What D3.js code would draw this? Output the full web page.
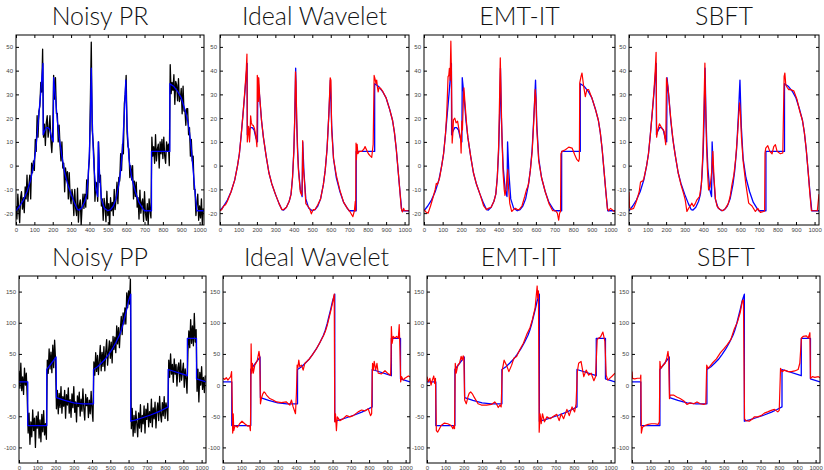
<!DOCTYPE html>
<html>
<head>
<style>
body { margin: 0; background: #fff; }
.title { font-family: Lato, "DejaVu Sans", sans-serif; font-weight: 300; font-size: 25px; fill: #111; }
.tick text { font-family: "Liberation Sans", Arial, sans-serif; font-size: 6px; fill: #444; }
.tick line { stroke: #000; }
path.sig { fill: none; stroke-linejoin: round; }
</style>
<script src="https://d3js.org/d3.v7.min.js"></script>
</head>
<body>
<script>
// axis ticks
var xTicks = [0, 100, 200, 300, 400, 500, 600, 700, 800, 900, 1000];
var prTicks = [-20, -10, 0, 10, 20, 30, 40, 50];
var ppTicks = [-100, -50, 0, 50, 100, 150];
var topTitles = ["Noisy PR", "Ideal Wavelet", "EMT-IT", "SBFT"];
var bottomTitles = ["Noisy PP", "Ideal Wavelet", "EMT-IT", "SBFT"];

// noisy signals, one sample every 5 points
var noisyStep = 5;
var prNoisy = [-17,-22.5,-12,-18.8,-24,-13.5,-11,-18.3,-13.5,-19.8,
  -9,-14,-4,-15,-8.5,-4,-14,1,-3,2,
  -2,11,6,21,12,23,25,35,31,49,
  12,17.5,8.5,18,21,12,15.5,21,10.5,5.5,
  14,38,28,37,22,22,10,17,8,2,
  10,-1,1,-11,-1,-6,-2.5,-14,-3,-13,
  -16,-10,-13,-21,-10,-18,-21,-9.5,-23.8,-16.7,
  -14.4,-25,-17.5,-12,-18,-12,-17.5,-6,-14,-2,
  3,27,52,15,10,3,-15,-7,-7.5,-15,
  10,-7,-4,-17,-14,-23,-13.8,-17.3,-23.6,-10.8,
  -21,-16,-25.8,-13.5,-19,-15.5,-21,-10,-18.5,-14,
  -7,-16,-5,-6.5,5,-2,9,5,26,30,
  38,14,8,7,-5,0,-6,0,-14,-6.5,
  -13,-7,-17.5,-13.5,-22.5,-10.3,-20,-15.5,-14,-23.5,
  -11,-20,-23,-16,-25,-14,-19,-22,12,4,
  8,1,13,2,7,9,-1,10,5,11,
  3,12,4,1,10,6,9,0,42.5,30.3,
  35,31.7,38.3,25.8,35.5,34,27.3,36.6,27,28.2,
  32.5,21.8,33.5,23,23.5,17,24,24,13,16,
  4,11,2,4,-10,-10,-21,-16,-12,-23,
  -17,-22,-14,-25,-18];

var ppNoisy = [23,-5,35,-9,13,-15,27,0,19,-20,
  -77,-45,-95,-59,-83,-40,-73,-53,-100,-50,
  -69,-43,-85,-56,-91,-47,-75,-41,-80,-62,
  -87,40,19,58,26,53,20,64,28,72,
  41,-38,-8.5,-46,-13.5,-36,-2.5,-45,-18.5,-34,
  -8.5,-53,-15.5,-32,-4.5,-45,-23.3,-51.6,-14,-36.2,
  -2.5,-43.7,-27,-59.1,-17.3,-34.4,-11.5,-49.6,-22.7,-41.8,
  -6,-38,-56,-15,-33,-20,-52,-24,-46,-10,
  -40,-58,37,16,52,22,47.5,17,40,63.5,
  23,52.5,30,61.5,23,53,73,32,54,71,
  43,69,35.5,78,57,77,52,95,66,92,
  60,90,110,81,116,98,124,98,148,124,
  151,130,170,-70,-37.5,-82,-48.8,-76.4,-42,-61.5,
  -83,-44.5,-69,-31.5,-75,-48.5,-62,-33.5,-77,-38.5,
  -55,-29.5,-67,-42.5,-60,-22.5,-67,-36.5,-54,-27.4,
  -68.8,-40.2,-28.5,-56.9,-18.3,-47.6,-59,-28,-49.2,-18.4,
  -53.5,-28.5,-39.5,-57,40,12.5,50,17.5,33,4.5,
  42,17.5,33,-1.5,28,35.5,5,40.5,8,21.5,
  35,-3.5,26,9.5,-13,53,87,60,105,67,
  95,63,115,69,89,-10,25.5,-27,20.5,0,
  29.5,-7,12.5,-12,15.5];

// true signals [x, y]
var prTrue = [[0,-19],[20,-17],[40,-14.5],[60,-11],[80,-6],[95,0],[105,5],[115,13],[125,22],[135,31],[142,38],[147,43],
  [148,13],[155,14.5],[165,16],[175,16],[185,15],[195,11.5],[203,10],[205,37],[215,29],[225,19],[235,12],[250,4],
  [265,-3],[280,-7.5],[300,-12],[320,-16],[335,-18.5],[345,-18.7],[360,-17.5],[375,-15],[385,-12],[393,-5],[400,6],
  [405,20],[410,41],[415,20],[420,8],[425,-1],[435,-10],[445,-13],[448,10],[455,-3],[465,-14],[480,-17.8],[500,-19],
  [515,-18.5],[530,-17],[545,-14],[560,-8],[570,-2],[580,7],[590,22],[598,36],[605,17],[615,3],[630,-5],[650,-11],
  [670,-15.5],[690,-18],[700,-19],[738,-19],[738,6],[838,6],[838,34.5],[860,33.3],[880,31.3],[900,28.5],[920,23.5],
  [935,19],[945,14],[955,7],[965,-2],[975,-11],[985,-19],[1024,-19]];

var ppTrue = [[0,5],[48,5],[48,-65],[152,-65],[152,25],[203,45],[205,-20],[250,-24.5],[300,-28.5],[350,-30],[408,-30],
  [408,25],[430,29.5],[450,35],[470,41],[490,49],[510,57.5],[530,68],[550,80],[560,88],[570,98],[580,110],[590,122],
  [600,135],[612,146],[612,-58],[640,-56],[680,-52],[720,-48],[760,-43.5],[790,-39.2],[817,-35],[817,25],[922,15],
  [922,75],[972,75],[972,10],[1024,5]];

// estimates [x, y]
var prIdeal = [[0,-19],[10,-18.5],[20,-17],[30,-16.5],[40,-15],[60,-11],[80,-6],[95,0],[105,5],[115,13],[125,22],[135,32],
  [142,40],[146,47],[148,10],[152,14],[155,16.5],[160,10],[163,14],[166,21],[170,18],[175,17],[180,17],[187,15.5],[195,12],
  [200,8],[202,38],[206,36],[208,27],[210,37],[215,29],[225,19],[235,12],[250,4],[265,-3],[280,-7.5],[300,-12],[320,-16],
  [335,-18.5],[345,-18.5],[360,-17.5],[375,-15],[385,-12],[393,-5],[400,6],[405,20],[409,39.5],[412,35],[416,18],[420,6],
  [425,-2],[435,-11],[443,-12.5],[446,-5],[448,10.5],[451,0],[457,-6],[465,-16],[475,-17],[485,-18],[495,-20.3],[505,-18.5],
  [515,-18.5],[530,-16.5],[545,-14],[560,-8],[570,-2],[580,7],[590,22],[597,37],[601,36],[605,15],[615,3],[630,-4],
  [650,-10.5],[670,-15.5],[690,-18],[705,-19.5],[720,-21.5],[728,-19],[733,-15],[735,-19],[737,9.5],[739,2.5],[743,9],
  [747,5],[755,6],[768,6],[780,7],[786,8],[795,6.5],[804,5],[815,4],[822,3.5],[830,9],[835,38],[840,36.5],[845,34.5],
  [849,36],[853,33],[857,31],[862,33],[870,32.5],[880,31.5],[900,28.5],[920,23.5],[935,19],[945,14],[955,7],[965,-2],
  [975,-11],[982,-18],[988,-19.5],[995,-18],[1000,-19],[1024,-19]];

var prEmt = [[0,-18.5],[10,-19.5],[22,-20],[35,-17],[50,-13],[60,-10],[66,-7.5],[72,-8],[84,-5],[95,0],[105,5],[115,13],
  [122,22],[129,37.5],[133,38],[136,41],[140,36],[144,52.4],[147,40],[151,9.5],[155,14],[158,19.3],[165,20],[172,18],
  [180,18.7],[188,15],[196,11.6],[199,5.3],[203,18.7],[206,15],[210,25],[214,32.7],[220,26],[228,18],[235,12],[250,4],
  [265,-3],[280,-7.5],[300,-12],[320,-17],[335,-18.5],[345,-18],[360,-17.5],[375,-15],[385,-12],[393,-5],[400,8],[405,28],
  [409,45.4],[413,30],[418,12],[424,-3],[430,-10],[434,-12.5],[440,-10],[445,-5],[449,-1.7],[453,-9],[460,-16],[470,-19.3],
  [480,-18.5],[490,-18],[500,-18.5],[510,-18.5],[525,-17],[540,-13],[550,-10],[556,-9],[562,-7],[570,-2],[580,6],[588,18],
  [596,32],[600,28],[605,15],[615,2],[630,-5],[650,-11],[670,-16],[690,-19],[705,-19],[715,-20],[722,-23],[727,-20],
  [732,-19.3],[734,5],[740,6],[758,6.7],[776,7.8],[794,7.4],[808,4.6],[820,2.5],[829,1.8],[833,3],[835,34.8],[842,37.6],
  [847,39],[856,33.4],[865,29],[873,32],[883,32],[900,28.5],[920,23.5],[935,19],[945,14],[955,7],[965,-2],[975,-11],
  [983,-18],[990,-19],[1000,-18],[1024,-19.5]];

var prSbft = [[0,-11],[3,-17.5],[10,-18.5],[25,-18],[40,-15],[55,-11],[62,-7],[68,-6.6],[74,-6.5],[80,-5.5],[95,0],[105,5],
  [115,13],[125,22],[135,32],[142,41],[146,47.7],[149,12],[155,15],[164,17.6],[177,15.8],[189,14.4],[198,8.8],[202,37],
  [210,33],[220,24],[230,16],[240,9],[250,4],[265,-3],[280,-8],[295,-12],[303,-14.4],[312,-19.3],[321,-18],[330,-17],
  [339,-15.8],[348,-17.2],[357,-16],[366,-14.4],[380,-13],[390,-8],[398,5],[404,25],[409,43.2],[413,25],[418,8],[424,-4],
  [429,-10.2],[437,-9],[445,-3],[452,6],[458,-5],[466,-14],[474,-17],[490,-18.5],[505,-19],[520,-18],[535,-16],[545,-13],
  [555,-8],[565,-4],[575,3],[585,13],[592,22],[596,26.4],[600,23],[606,12],[615,2],[630,-8],[645,-15.8],[663,-17],
  [681,-19.3],[694,-18],[708,-19.7],[726,-19.3],[731,-19],[733,5.3],[737,7.4],[748,8.4],[759,6],[771,5],[780,8],[789,8.8],
  [798,6],[816,5],[829,5.3],[836,37.6],[840,39],[845,34],[852,33],[861,32],[870,32],[888,31.5],[905,28],[920,23],[935,19],
  [945,14],[955,7],[965,-2],[975,-12],[983,-19],[1000,-19],[1015,-19],[1024,-12]];

var ppIdeal = [[0,11],[10,9],[18,12],[27,8],[35,11],[42,13.5],[47,21.6],[50,-20],[53,-77],[56,-46],[59,-73],[63,-68],
  [68,-65],[79,-67.5],[91,-62],[104,-58],[119,-62],[137,-66],[146,-65],[150,-73],[152,-30],[154,66],[157,19],[161,35],
  [166,19],[174,32],[182,36],[188,40],[197,54],[201,46],[203,10],[205,-30],[210,-21.6],[218,-14],[225,-11],[232,-13],
  [238,-16],[256,-21.6],[274,-24],[293,-27],[320,-28],[347,-27],[357,-30],[366,-32],[375,-24],[384,-35],[390,-40],
  [397,-46],[402,-13],[406,32],[410,28],[415,40],[420,30],[430,32],[439,24],[448,35],[460,38],[470,41],[490,49],
  [510,57.5],[530,68],[550,79],[560,86],[570,95],[580,107],[590,119],[600,132],[609,146],[612,-59],[616,-46],[621,-73],
  [626,-51],[640,-57],[658,-54],[676,-49],[695,-51],[713,-49],[740,-43],[759,-40],[777,-41.5],[795,-38],[808,-49],
  [814,-46],[817,10],[819,35],[823,24],[828,38],[836,24],[843,35],[850,19],[868,18],[887,23],[905,18],[918,16],[920,40],
  [922,94],[926,67],[932,78],[941,75.5],[951,78],[960,75],[965,97],[969,56],[973,5],[978,13.5],[987,8],[996,11],
  [1015,14.6],[1024,13]];

var ppEmt = [[0,13.5],[7,5.4],[16,10.8],[22,0],[29,8],[37,14.6],[42,2.7],[46,10.8],[51,-73],[58,-75.5],[68,-70],[77,-64.8],
  [95,-61],[113,-62],[132,-64.8],[141,-70],[146,-65],[150,-70],[154,35],[159,19],[168,32],[177,35],[186,46],[192,40],
  [197,47],[201,43],[205,-24],[214,-30],[223,-19],[230,-13],[238,-11],[247,-14],[256,-19],[278,-30],[296,-32],[324,-32],
  [351,-31],[369,-27],[378,-30],[388,-36],[397,-32],[404,-35],[410,24],[420,40],[433,32],[446,21.6],[461,32],[473,43],
  [488,46],[506,57],[525,67],[543,81],[561,92],[574,105],[589,124],[600,159],[603,140],[607,151],[611,-75.5],[616,-46],
  [622,-62],[629,-46],[640,-59],[653,-51],[671,-54],[689,-50],[707,-47],[720,-57],[731,-46],[744,-54],[762,-39],[775,-49],
  [790,-35],[804,-43],[812,-30],[819,21.6],[826,35],[839,38],[854,13.5],[867,24],[881,16],[894,19],[909,7],[918,13.5],
  [927,73],[936,75.5],[945,77],[958,85],[969,70],[976,16],[985,8],[995,10.8],[1009,14.6],[1024,19]];

var ppSbft = [[0,21.6],[3,10.8],[15,10],[30,11],[46,11],[48,16],[51,-77],[57,-67.5],[70,-65],[88,-63],[106,-62],[125,-62],
  [143,-63],[149,-59],[152,38],[156,27],[167,31],[180,35],[189,43],[196,54],[200,43],[204,-21.6],[207,-16],[226,-16],
  [244,-19],[262,-21.6],[281,-25],[299,-31],[317,-28.6],[336,-30],[354,-27],[372,-30],[391,-31],[402,-30],[407,32],
  [413,27],[424,30],[437,35],[460,42],[482,52],[500,58],[519,65],[538,73],[556,89],[574,101],[589,116],[601,135],
  [607,136.5],[613,-54],[620,-57],[639,-58],[657,-54],[666,-51],[684,-51],[703,-49],[721,-45],[739,-43],[758,-40.5],
  [776,-39],[794,-43],[802,-40.5],[809,27],[817,21.6],[831,24],[850,21.6],[868,21.6],[886,22.7],[905,25],[914,35],
  [923,75.5],[932,78],[950,79],[960,75.5],[969,84],[972,10.8],[982,13.5],[996,12.4],[1015,13.5],[1024,12]];

var svg = d3.select("body").append("svg").attr("width", 824).attr("height", 470);

function toPairs(vals) {
  return vals.map(function(v, i) { return [i * noisyStep, v]; });
}
function plain(d) { return String(d); }

var rows = [
  { top: 35, bottom: 225, domain: [-25, 55], yTicks: prTicks, titles: topTitles, titleY: 25,
    boxes: [[16, 204], [220, 409], [424, 615], [629, 819]],
    truth: prTrue, noisy: prNoisy, est: [prIdeal, prEmt, prSbft] },
  { top: 276, bottom: 463, domain: [-125, 175], yTicks: ppTicks, titles: bottomTitles, titleY: 266,
    boxes: [[19, 206], [223, 410], [427, 615], [632, 820]],
    truth: ppTrue, noisy: ppNoisy, est: [ppIdeal, ppEmt, ppSbft] }
];

rows.forEach(function(row, r) {
  row.boxes.forEach(function(b, c) {
    var x = d3.scaleLinear().domain([0, 1024]).range([b[0], b[1]]);
    var y = d3.scaleLinear().domain(row.domain).range([row.bottom, row.top]);
    var line = d3.line().x(function(d) { return x(d[0]); }).y(function(d) { return y(d[1]); });
    var id = "clip" + r + c;
    var g = svg.append("g");

    g.append("clipPath").attr("id", id).append("rect")
      .attr("x", b[0]).attr("y", row.top).attr("width", b[1] - b[0]).attr("height", row.bottom - row.top);

    var plot = g.append("g").attr("clip-path", "url(#" + id + ")");
    if (c == 0) {
      plot.append("path").attr("class", "sig").datum(toPairs(row.noisy))
        .attr("d", line).attr("stroke", "#000").attr("stroke-width", 1.3);
      plot.append("path").attr("class", "sig").datum(row.truth)
        .attr("d", line).attr("stroke", "#0000ff").attr("stroke-width", 1.3);
    } else {
      plot.append("path").attr("class", "sig").datum(row.truth)
        .attr("d", line).attr("stroke", "#0000ff").attr("stroke-width", 1.3);
      plot.append("path").attr("class", "sig").datum(row.est[c - 1])
        .attr("d", line).attr("stroke", "#ff0000").attr("stroke-width", 1.2);
    }

    // axes with inward ticks
    g.append("g").attr("transform", "translate(0," + row.bottom + ")")
      .call(d3.axisBottom(x).tickValues(xTicks).tickFormat(plain).tickSizeInner(-3).tickSizeOuter(0).tickPadding(3));
    g.append("g").attr("transform", "translate(0," + row.top + ")")
      .call(d3.axisTop(x).tickValues(xTicks).tickSizeInner(-3).tickSizeOuter(0).tickFormat(""));
    g.append("g").attr("transform", "translate(" + b[0] + ",0)")
      .call(d3.axisLeft(y).tickValues(row.yTicks).tickFormat(plain).tickSizeInner(-3).tickSizeOuter(0).tickPadding(3));
    g.append("g").attr("transform", "translate(" + b[1] + ",0)")
      .call(d3.axisRight(y).tickValues(row.yTicks).tickSizeInner(-3).tickSizeOuter(0).tickFormat(""));
    g.selectAll(".domain").remove();
    g.selectAll(".tick text").attr("font-family", null).attr("font-size", null);

    g.append("rect").attr("x", b[0]).attr("y", row.top)
      .attr("width", b[1] - b[0]).attr("height", row.bottom - row.top)
      .attr("fill", "none").attr("stroke", "#000").attr("stroke-width", 1);

    var tx = c == 0 ? 100 : (b[0] + b[1]) / 2;
    svg.append("text").attr("class", "title").attr("x", tx).attr("y", row.titleY)
      .attr("text-anchor", "middle").text(row.titles[c]);
  });
});
</script>
</body>
</html>
